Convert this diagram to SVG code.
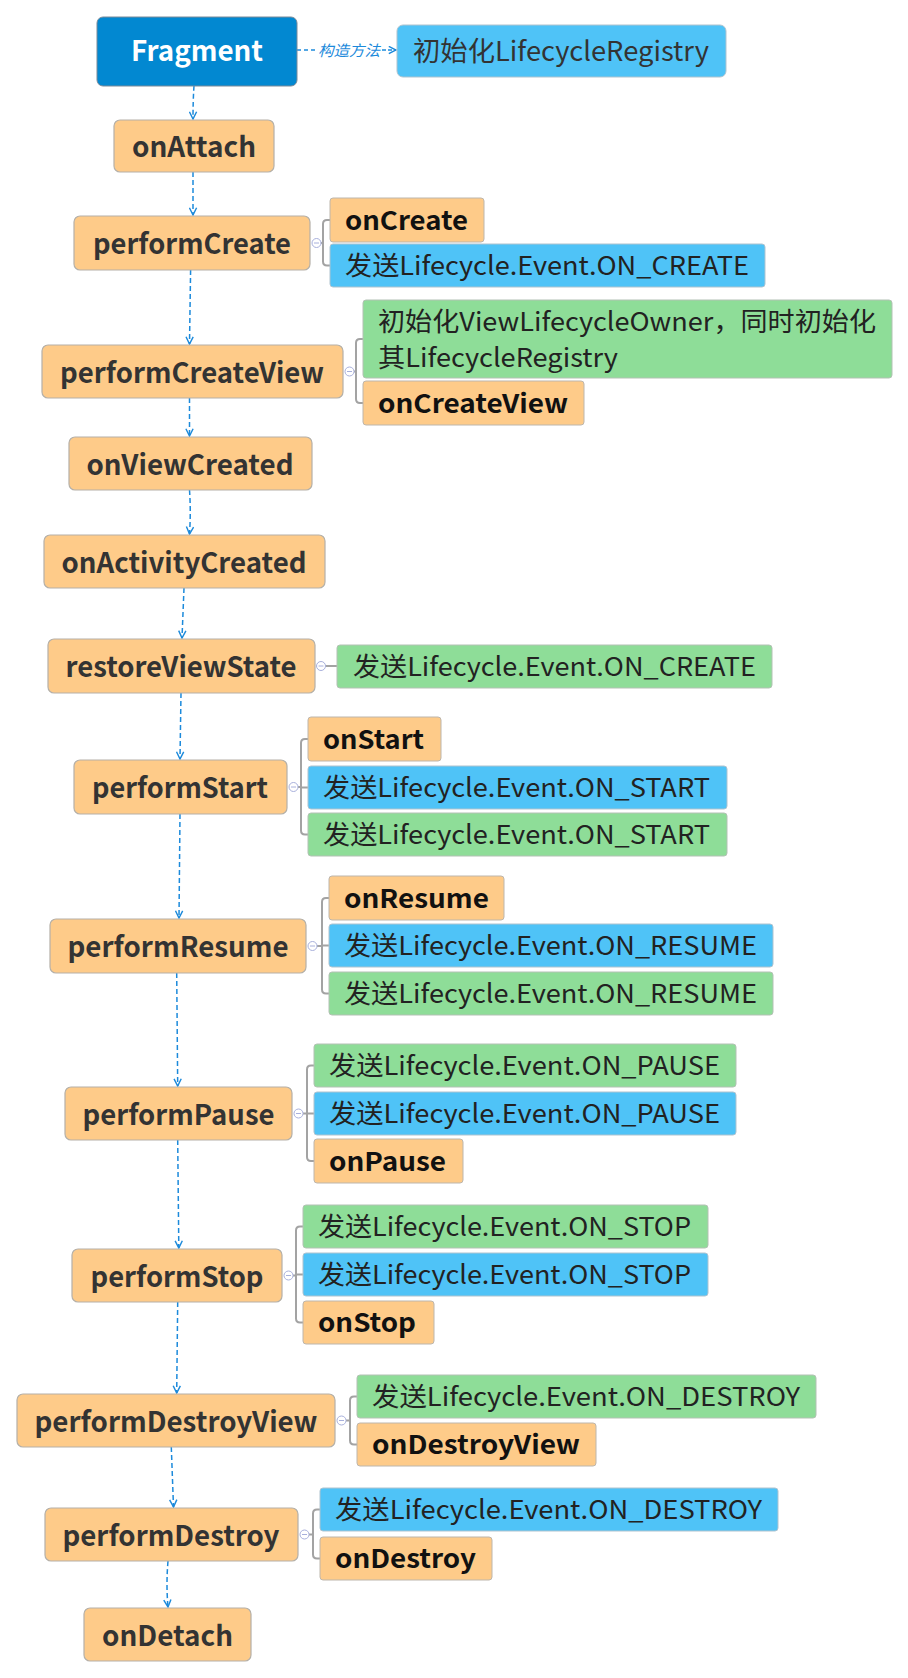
<svg xmlns="http://www.w3.org/2000/svg" width="908" height="1678" viewBox="0 0 908 1678">
<defs>
<style>
.main{fill:#FECB89;stroke:#B5B0A8;stroke-width:1.2}
.frag{fill:#0288D1;stroke:#7A8A99;stroke-width:1}
.or{fill:#FECB89;stroke:#BDB6AC;stroke-width:1}
.bl{fill:#4FC3F7;stroke:#AFC3CF;stroke-width:1}
.gr{fill:#8EDD98;stroke:#B3C1B4;stroke-width:1}
.mt{font-family:"Noto Sans CJK SC","Noto Sans",sans-serif;font-weight:bold;font-size:28px;fill:#333;text-anchor:middle;dominant-baseline:central;transform:translate(0px,-1px)}
.ct{font-family:"Noto Sans CJK SC","Noto Sans",sans-serif;font-size:26px;fill:#222;dominant-baseline:central;transform:translate(0px,-2px)}
.cb{font-family:"Noto Sans CJK SC","Noto Sans",sans-serif;font-weight:bold;font-size:26px;fill:#111;dominant-baseline:central;transform:translate(0px,-2px)}
.dash{fill:none;stroke:#1C8ADB;stroke-width:1.5;stroke-dasharray:5 3}
.br{fill:none;stroke:#A3A3A3;stroke-width:2}
.cir{fill:#fff;stroke:#A8B0DC;stroke-width:1}
.lbl{font-family:"Noto Sans CJK SC","Noto Sans",sans-serif;font-style:italic;font-size:15px;fill:#1C8ADB;dominant-baseline:central}
</style>
<marker id="arr" viewBox="0 0 10 10" refX="9" refY="5" markerWidth="9" markerHeight="9" markerUnits="userSpaceOnUse" orient="auto">
<path d="M1,1 L9,5 L1,9" fill="none" stroke="#1C8ADB" stroke-width="1.6"/>
</marker>
</defs>
<rect width="908" height="1678" fill="#fff"/>

<g id="connectors">
<path class="dash" d="M297,50 H316" style="stroke-dasharray:4 3"/>
<text class="lbl" x="318" y="49" textLength="62" lengthAdjust="spacingAndGlyphs">构造方法</text>
<path class="dash" d="M382,50 H396" style="stroke-dasharray:4 2" marker-end="url(#arr)"/>
<path class="dash" d="M194,86 Q193,100 193,119" marker-end="url(#arr)"/>
<path class="dash" d="M193,172 V215" marker-end="url(#arr)"/>
<path class="dash" d="M190.6,270 L189.5,344" marker-end="url(#arr)"/>
<path class="dash" d="M189.5,398 V436" marker-end="url(#arr)"/>
<path class="dash" d="M189.5,490 Q191,512 189.5,534" marker-end="url(#arr)"/>
<path class="dash" d="M184,588 L182,638" marker-end="url(#arr)"/>
<path class="dash" d="M181,693 L180,759" marker-end="url(#arr)"/>
<path class="dash" d="M180,814 L179,918" marker-end="url(#arr)"/>
<path class="dash" d="M176.7,973 L177.7,1086" marker-end="url(#arr)"/>
<path class="dash" d="M177.7,1140 L178.8,1248" marker-end="url(#arr)"/>
<path class="dash" d="M177.7,1302 L176.7,1393" marker-end="url(#arr)"/>
<path class="dash" d="M171.3,1447 L173.5,1507" marker-end="url(#arr)"/>
<path class="dash" d="M168,1561 Q166,1585 168,1607" marker-end="url(#arr)"/>

<path class="br" d="M321,243 H323 M330,220 H327 Q323,220 323,224 V261.5 Q323,265.5 327,265.5 H330"/>
<path class="br" d="M354,371.5 H356 M363,339 H360 Q356,339 356,343 V399 Q356,403 360,403 H363"/>
<path class="br" d="M325,666 H337"/>
<path class="br" d="M298,787 H301 M308,739 H305 Q301,739 301,743 V830.5 Q301,834.5 305,834.5 H308 M301,787.5 H308"/>
<path class="br" d="M317,946 H322 M329,898 H326 Q322,898 322,902 V989.5 Q322,993.5 326,993.5 H329 M322,945.5 H329"/>
<path class="br" d="M303,1113.5 H307 M314,1065.5 H311 Q307,1065.5 307,1069.5 V1157 Q307,1161 311,1161 H314 M307,1113.5 H314"/>
<path class="br" d="M293,1275.5 H296 M303,1226.5 H300 Q296,1226.5 296,1230.5 V1318.5 Q296,1322.5 300,1322.5 H303 M296,1274.5 H303"/>
<path class="br" d="M346,1420.5 H350 M357,1396.5 H354 Q350,1396.5 350,1400.5 V1440.5 Q350,1444.5 354,1444.5 H357"/>
<path class="br" d="M309,1534.5 H313 M320,1509.5 H317 Q313,1509.5 313,1513.5 V1554.5 Q313,1558.5 317,1558.5 H320"/>
<g>
<circle class="cir" cx="316.5" cy="243" r="4.5"/><path d="M314,243 H319" stroke="#A8B0DC"/>
<circle class="cir" cx="349.5" cy="371.5" r="4.5"/><path d="M347,371.5 H352" stroke="#A8B0DC"/>
<circle class="cir" cx="321" cy="666" r="4.5"/><path d="M318.5,666 H323.5" stroke="#A8B0DC"/>
<circle class="cir" cx="293.5" cy="787" r="4.5"/><path d="M291,787 H296" stroke="#A8B0DC"/>
<circle class="cir" cx="312.5" cy="946" r="4.5"/><path d="M310,946 H315" stroke="#A8B0DC"/>
<circle class="cir" cx="298.5" cy="1113.5" r="4.5"/><path d="M296,1113.5 H301" stroke="#A8B0DC"/>
<circle class="cir" cx="288.5" cy="1275.5" r="4.5"/><path d="M286,1275.5 H291" stroke="#A8B0DC"/>
<circle class="cir" cx="341.5" cy="1420.5" r="4.5"/><path d="M339,1420.5 H344" stroke="#A8B0DC"/>
<circle class="cir" cx="304.5" cy="1534.5" r="4.5"/><path d="M302,1534.5 H307" stroke="#A8B0DC"/>
</g>
</g>

<g id="n-fragment"><rect class="frag" x="97" y="17" width="200" height="69" rx="6"/><text class="mt" x="197" y="50" style="fill:#fff" textLength="132" lengthAdjust="spacingAndGlyphs">Fragment</text></g>
<g id="n-initLR"><rect class="bl" x="397" y="25" width="329" height="52" rx="6"/><text class="ct" x="413" y="51" style="font-size:27px;fill:#333" textLength="296" lengthAdjust="spacingAndGlyphs">初始化LifecycleRegistry</text></g>
<g id="n-onAttach"><rect class="main" x="114" y="120" width="160" height="52" rx="6"/><text class="mt" x="194" y="146" textLength="124" lengthAdjust="spacingAndGlyphs">onAttach</text></g>

<g id="n-performCreate"><rect class="main" x="74" y="216" width="236" height="54" rx="6"/><text class="mt" x="192" y="243" textLength="198" lengthAdjust="spacingAndGlyphs">performCreate</text></g>
<g id="n-onCreate"><rect class="or" x="330" y="198" width="154" height="44" rx="3"/><text class="cb" x="345" y="220" textLength="123" lengthAdjust="spacingAndGlyphs">onCreate</text></g>
<g id="n-createBlue"><rect class="bl" x="330" y="244" width="435" height="43" rx="3"/><text class="ct" x="345" y="265.5" textLength="404" lengthAdjust="spacingAndGlyphs">发送Lifecycle.Event.ON_CREATE</text></g>

<g id="n-performCreateView"><rect class="main" x="42" y="345" width="301" height="53" rx="6"/><text class="mt" x="192" y="371.5" textLength="264" lengthAdjust="spacingAndGlyphs">performCreateView</text></g>
<g id="n-initVLO"><rect class="gr" x="363" y="300" width="529" height="78" rx="3"/><text class="ct" x="378" y="321" textLength="498" lengthAdjust="spacingAndGlyphs">初始化ViewLifecycleOwner，同时初始化</text><text class="ct" x="378" y="357" textLength="240" lengthAdjust="spacingAndGlyphs">其LifecycleRegistry</text></g>
<g id="n-onCreateView"><rect class="or" x="363" y="381" width="221" height="44" rx="3"/><text class="cb" x="378" y="403" textLength="190" lengthAdjust="spacingAndGlyphs">onCreateView</text></g>

<g id="n-onViewCreated"><rect class="main" x="69" y="437" width="243" height="53" rx="6"/><text class="mt" x="190" y="463.5" textLength="207" lengthAdjust="spacingAndGlyphs">onViewCreated</text></g>
<g id="n-onActivityCreated"><rect class="main" x="44" y="535" width="281" height="53" rx="6"/><text class="mt" x="184" y="561.5" textLength="245" lengthAdjust="spacingAndGlyphs">onActivityCreated</text></g>

<g id="n-restoreViewState"><rect class="main" x="48" y="639" width="267" height="54" rx="6"/><text class="mt" x="181" y="666" textLength="231" lengthAdjust="spacingAndGlyphs">restoreViewState</text></g>
<g id="n-createGreen"><rect class="gr" x="337" y="645" width="435" height="43" rx="3"/><text class="ct" x="353" y="666.5" textLength="403" lengthAdjust="spacingAndGlyphs">发送Lifecycle.Event.ON_CREATE</text></g>

<g id="n-performStart"><rect class="main" x="74" y="760" width="213" height="54" rx="6"/><text class="mt" x="180" y="787" textLength="176" lengthAdjust="spacingAndGlyphs">performStart</text></g>
<g id="n-onStart"><rect class="or" x="308" y="717" width="133" height="44" rx="3"/><text class="cb" x="323" y="739" textLength="101" lengthAdjust="spacingAndGlyphs">onStart</text></g>
<g id="n-startBlue"><rect class="bl" x="308" y="766" width="419" height="43" rx="3"/><text class="ct" x="323" y="787.5" textLength="387" lengthAdjust="spacingAndGlyphs">发送Lifecycle.Event.ON_START</text></g>
<g id="n-startGreen"><rect class="gr" x="308" y="813" width="419" height="43" rx="3"/><text class="ct" x="323" y="834.5" textLength="387" lengthAdjust="spacingAndGlyphs">发送Lifecycle.Event.ON_START</text></g>

<g id="n-performResume"><rect class="main" x="50" y="919" width="256" height="54" rx="6"/><text class="mt" x="178" y="946" textLength="221" lengthAdjust="spacingAndGlyphs">performResume</text></g>
<g id="n-onResume"><rect class="or" x="329" y="876" width="175" height="44" rx="3"/><text class="cb" x="344" y="898" textLength="145" lengthAdjust="spacingAndGlyphs">onResume</text></g>
<g id="n-resumeBlue"><rect class="bl" x="329" y="924" width="444" height="43" rx="3"/><text class="ct" x="344" y="945.5" textLength="413" lengthAdjust="spacingAndGlyphs">发送Lifecycle.Event.ON_RESUME</text></g>
<g id="n-resumeGreen"><rect class="gr" x="329" y="972" width="444" height="43" rx="3"/><text class="ct" x="344" y="993.5" textLength="413" lengthAdjust="spacingAndGlyphs">发送Lifecycle.Event.ON_RESUME</text></g>

<g id="n-performPause"><rect class="main" x="65" y="1087" width="227" height="53" rx="6"/><text class="mt" x="178.5" y="1113.5" textLength="192" lengthAdjust="spacingAndGlyphs">performPause</text></g>
<g id="n-pauseGreen"><rect class="gr" x="314" y="1044" width="422" height="43" rx="3"/><text class="ct" x="329" y="1065.5" textLength="391" lengthAdjust="spacingAndGlyphs">发送Lifecycle.Event.ON_PAUSE</text></g>
<g id="n-pauseBlue"><rect class="bl" x="314" y="1092" width="422" height="43" rx="3"/><text class="ct" x="329" y="1113.5" textLength="391" lengthAdjust="spacingAndGlyphs">发送Lifecycle.Event.ON_PAUSE</text></g>
<g id="n-onPause"><rect class="or" x="314" y="1139" width="149" height="44" rx="3"/><text class="cb" x="329" y="1161" textLength="117" lengthAdjust="spacingAndGlyphs">onPause</text></g>

<g id="n-performStop"><rect class="main" x="72" y="1249" width="210" height="53" rx="6"/><text class="mt" x="177" y="1275.5" textLength="173" lengthAdjust="spacingAndGlyphs">performStop</text></g>
<g id="n-stopGreen"><rect class="gr" x="303" y="1205" width="405" height="43" rx="3"/><text class="ct" x="318" y="1226.5" textLength="373" lengthAdjust="spacingAndGlyphs">发送Lifecycle.Event.ON_STOP</text></g>
<g id="n-stopBlue"><rect class="bl" x="303" y="1253" width="405" height="43" rx="3"/><text class="ct" x="318" y="1274.5" textLength="373" lengthAdjust="spacingAndGlyphs">发送Lifecycle.Event.ON_STOP</text></g>
<g id="n-onStop"><rect class="or" x="303" y="1301" width="131" height="43" rx="3"/><text class="cb" x="318" y="1322.5" textLength="98" lengthAdjust="spacingAndGlyphs">onStop</text></g>

<g id="n-performDestroyView"><rect class="main" x="17" y="1394" width="318" height="53" rx="6"/><text class="mt" x="176" y="1420.5" textLength="283" lengthAdjust="spacingAndGlyphs">performDestroyView</text></g>
<g id="n-destroyGreen"><rect class="gr" x="357" y="1375" width="459" height="43" rx="3"/><text class="ct" x="372" y="1396.5" textLength="428" lengthAdjust="spacingAndGlyphs">发送Lifecycle.Event.ON_DESTROY</text></g>
<g id="n-onDestroyView"><rect class="or" x="357" y="1423" width="239" height="43" rx="3"/><text class="cb" x="372" y="1444.5" textLength="208" lengthAdjust="spacingAndGlyphs">onDestroyView</text></g>

<g id="n-performDestroy"><rect class="main" x="45" y="1508" width="253" height="53" rx="6"/><text class="mt" x="171" y="1534.5" textLength="217" lengthAdjust="spacingAndGlyphs">performDestroy</text></g>
<g id="n-destroyBlue"><rect class="bl" x="320" y="1488" width="458" height="43" rx="3"/><text class="ct" x="335" y="1509.5" textLength="427" lengthAdjust="spacingAndGlyphs">发送Lifecycle.Event.ON_DESTROY</text></g>
<g id="n-onDestroy"><rect class="or" x="320" y="1537" width="172" height="43" rx="3"/><text class="cb" x="335" y="1558.5" textLength="141" lengthAdjust="spacingAndGlyphs">onDestroy</text></g>

<g id="n-onDetach"><rect class="main" x="84" y="1608" width="167" height="53" rx="6"/><text class="mt" x="167.5" y="1634.5" textLength="131" lengthAdjust="spacingAndGlyphs">onDetach</text></g>
</svg>
